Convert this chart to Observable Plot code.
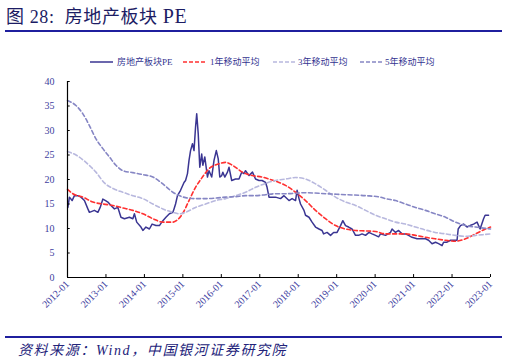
<!DOCTYPE html>
<html>
<head>
<meta charset="utf-8">
<script src="https://cdn.jsdelivr.net/npm/d3@7"></script>
<script src="https://cdn.jsdelivr.net/npm/@observablehq/plot@0.6"></script>
<style>
  html, body { margin: 0; padding: 0; background: #fff; }
  #page { position: relative; width: 508px; height: 361px; overflow: hidden; background: #fff; }
  .abs { position: absolute; }
  #title { left: 6px; top: 2px; font-family: "Liberation Serif", "Noto Sans CJK SC", serif; font-size: 18px; letter-spacing: 0.6px; color: #1c1c64; white-space: nowrap; }
  #title .pe { font-size: 20px; }
  .rule { left: 5px; width: 497px; height: 2px; background: #1f1f9e; }
  #source { left: 18px; top: 339px; font-family: "Liberation Serif", "Noto Sans CJK SC", serif; font-style: italic; font-size: 14px; letter-spacing: 1.6px; color: #23237a; white-space: nowrap; }
  .leg { font-family: "Liberation Serif", "Noto Sans CJK SC", serif; font-size: 9px; color: #333390; white-space: nowrap; }
</style>
</head>
<body>
<div id="page">
  <div id="title" class="abs">图 28:&nbsp;&nbsp;房地产板块 <span class="pe">PE</span></div>
  <div class="abs rule" style="top:30px"></div>
  <div id="legend"></div>
  <div id="chart" class="abs" style="left:0;top:70px"></div>
  <div class="abs rule" style="top:336px"></div>
  <div id="source" class="abs">资料来源：Wind，中国银河证券研究院</div>
</div>
<script>
// ---- data ----
const seriesNames = ["房地产板块PE", "1年移动平均", "3年移动平均", "5年移动平均"];
const xTickYears = [2012, 2013, 2014, 2015, 2016, 2017, 2018, 2019, 2020, 2021, 2022, 2023];
const yTicks = [0, 5, 10, 15, 20, 25, 30, 35, 40];

const peYear = [2012.01,2012.05,2012.12,2012.18,2012.27,2012.35,2012.44,2012.53,2012.57,2012.70,2012.79,2012.85,2012.92,2012.99,
  2013.05,2013.13,2013.22,2013.31,2013.39,2013.48,2013.61,2013.70,2013.74,2013.80,2013.91,2013.96,
  2014.04,2014.13,2014.20,2014.30,2014.39,2014.48,2014.56,2014.65,2014.74,2014.77,2014.81,2014.86,2014.94,
  2015.03,2015.07,2015.12,2015.16,2015.20,2015.25,2015.29,2015.33,2015.36,2015.40,2015.44,2015.49,2015.52,2015.57,2015.64,2015.68,2015.75,2015.81,2015.87,2015.92,2015.96,
  2016.01,2016.04,2016.09,2016.16,2016.20,2016.27,2016.37,2016.46,2016.53,2016.59,2016.63,2016.72,2016.81,2016.89,2016.98,
  2017.06,2017.15,2017.19,2017.24,2017.31,2017.41,2017.54,2017.63,2017.76,2017.84,2017.93,2017.97,
  2018.02,2018.06,2018.15,2018.19,2018.28,2018.36,2018.45,2018.54,2018.62,2018.66,2018.75,2018.84,2018.92,
  2019.01,2019.10,2019.16,2019.23,2019.31,2019.40,2019.49,2019.57,2019.66,2019.75,2019.84,2019.92,
  2020.01,2020.09,2020.14,2020.27,2020.40,2020.44,2020.53,2020.61,2020.70,2020.79,2020.87,2020.96,
  2021.09,2021.22,2021.31,2021.39,2021.48,2021.57,2021.65,2021.74,2021.78,2021.87,2021.96,
  2022.04,2022.13,2022.16,2022.22,2022.30,2022.39,2022.47,2022.56,2022.65,2022.73,2022.82,2022.86,2022.95];
const peValue = [14.3,16.4,15.7,16.7,16.7,16.4,15.7,14.0,13.3,13.7,13.3,14.3,16.0,15.7,
  15.4,14.7,14.0,14.3,12.3,12.0,12.3,12.0,13.0,11.3,10.3,9.6,
  10.3,9.9,10.9,10.6,10.6,11.6,12.3,13.0,13.3,14.0,15.0,16.7,17.8,
  19.4,19.8,21.2,23.9,25.9,27.3,25.9,30.7,33.4,29.3,22.5,25.2,22.9,24.6,20.5,21.8,20.5,23.9,25.9,24.2,20.5,
  20.8,21.5,20.5,21.5,22.5,19.8,20.1,20.1,21.5,21.2,21.8,20.8,21.5,20.1,19.8,
  19.8,19.4,18.4,16.4,16.4,16.4,16.1,16.7,15.7,16.1,15.7,17.8,
  16.1,15.0,13.7,12.7,12.3,11.3,10.3,9.9,9.6,8.9,9.2,8.6,9.2,
  9.2,10.6,11.6,10.6,10.3,9.9,8.6,8.6,8.9,8.6,9.2,8.9,
  8.6,8.3,8.9,8.6,9.2,9.9,9.2,9.6,8.9,8.9,8.6,8.2,
  7.9,7.9,7.9,7.6,6.9,7.2,6.9,6.5,7.2,7.2,7.6,
  7.6,7.6,9.9,10.6,10.9,10.3,10.6,10.9,11.3,9.9,12.0,12.7,12.7];

const ma1Year = [2012.00,2012.14,2012.40,2012.66,2012.92,2013.18,2013.44,2013.70,2013.96,2014.22,2014.48,2014.74,2014.85,2014.99,
  2015.16,2015.33,2015.51,2015.68,2015.94,2016.11,2016.29,2016.55,2016.80,2017.06,2017.32,2017.50,2017.67,2017.93,
  2018.19,2018.45,2018.71,2018.97,2019.23,2019.49,2019.75,2020.01,2020.27,2020.53,2020.79,2021.05,2021.31,2021.56,2021.83,
  2022.09,2022.35,2022.61,2022.87,2023.00];
const ma1Value = [18.0,17.1,16.4,15.4,15.0,14.7,14.2,13.7,13.0,12.0,11.3,11.3,11.7,13.0,
  15.7,18.4,20.5,22.2,23.2,23.5,22.9,21.5,20.8,20.5,19.9,19.4,18.8,17.4,
  15.7,13.7,12.0,10.6,9.9,9.6,9.5,9.4,8.9,8.9,8.9,8.6,8.2,7.9,7.6,
  7.4,7.9,8.9,9.9,10.3];

const ma3Year = [2012.00,2012.22,2012.48,2012.74,2012.96,2013.20,2013.44,2013.70,2013.96,2014.22,2014.48,2014.74,2014.90,2015.07,
  2015.33,2015.59,2015.85,2016.11,2016.37,2016.63,2016.89,2017.15,2017.41,2017.67,2017.93,2018.19,2018.45,2018.71,2018.97,
  2019.23,2019.49,2019.75,2020.01,2020.27,2020.53,2020.79,2021.05,2021.31,2021.56,2021.83,2022.09,2022.35,2022.61,2023.00];
const ma3Value = [25.7,25.0,23.5,21.5,19.3,18.1,17.4,16.7,16.1,15.0,14.0,13.3,13.0,13.3,
  14.3,15.0,15.7,16.1,16.7,17.4,18.4,19.2,19.8,20.1,20.4,20.1,19.1,17.8,16.4,
  15.4,14.7,13.7,12.7,12.0,11.3,10.9,10.3,9.7,9.2,8.9,8.6,8.4,8.6,8.9];

const ma5Year = [2012.00,2012.22,2012.40,2012.57,2012.74,2012.92,2013.09,2013.26,2013.44,2013.70,2013.96,2014.22,2014.48,2014.74,
  2015.07,2015.33,2015.59,2015.85,2016.11,2016.37,2016.63,2016.89,2017.15,2017.41,2017.67,2018.19,2018.71,2019.23,2019.75,
  2020.14,2020.27,2020.53,2020.79,2021.05,2021.31,2021.56,2021.83,2022.09,2022.35,2022.61,2023.00];
const ma5Value = [36.1,35.1,33.4,31.0,28.3,26.3,24.6,22.9,21.8,21.4,21.0,20.5,19.1,17.4,
  16.3,16.1,16.1,16.2,16.4,16.5,16.7,16.7,16.9,17.1,17.1,17.3,17.1,16.9,16.7,
  16.4,16.1,15.7,15.0,14.3,13.7,13.0,12.3,11.3,10.6,10.3,9.9];

// ---- styles ----
const colors = ["#3a3592", "#ff3030", "#b8b8de", "#8686c4"];
const dashes = [null, "4,2.6", "4,2.6", "4,2.6"];
const widths = [1.5, 1.6, 1.6, 1.6];
const labelColor = "#4040a0";
const font = "'Liberation Serif', 'Noto Sans CJK SC', serif";

// ---- legend ----
const legendPos = [[90, 117], [183, 210], [273, 298], [360, 385]];
const legend = document.getElementById("legend");
seriesNames.forEach((name, i) => {
  const [lx, tx] = legendPos[i];
  const sw = document.createElementNS("http://www.w3.org/2000/svg", "svg");
  sw.setAttribute("width", 24); sw.setAttribute("height", 6);
  sw.style.position = "absolute"; sw.style.left = lx + "px"; sw.style.top = "59px";
  const ln = document.createElementNS("http://www.w3.org/2000/svg", "line");
  ln.setAttribute("x1", 0); ln.setAttribute("x2", 23); ln.setAttribute("y1", 3); ln.setAttribute("y2", 3);
  ln.setAttribute("stroke", colors[i]); ln.setAttribute("stroke-width", widths[i]);
  if (dashes[i]) ln.setAttribute("stroke-dasharray", "4,2");
  sw.appendChild(ln);
  legend.appendChild(sw);
  const t = document.createElement("div");
  t.className = "abs leg"; t.style.left = tx + "px"; t.style.top = "55px";
  t.textContent = name;
  legend.appendChild(t);
});

// ---- chart ----
const pe = peYear.map((x, i) => ({x, y: peValue[i]}));
const ma1 = ma1Year.map((x, i) => ({x, y: ma1Value[i]}));
const ma3 = ma3Year.map((x, i) => ({x, y: ma3Value[i]}));
const ma5 = ma5Year.map((x, i) => ({x, y: ma5Value[i]}));
const seriesData = [pe, ma1, ma3, ma5];

const chart = Plot.plot({
  width: 508,
  height: 262,
  marginTop: 11,
  marginBottom: 55,
  marginLeft: 67,
  marginRight: 18,
  style: {fontFamily: font, background: "transparent", overflow: "visible"},
  x: {domain: [2012, 2023], axis: null},
  y: {domain: [0, 40], axis: null},
  marks: [
    ...seriesData.map((d, i) => Plot.line(d, {
      x: "x", y: "y",
      stroke: colors[i], strokeWidth: widths[i],
      strokeDasharray: dashes[i] ?? undefined,
      curve: i === 0 ? "linear" : "monotone-x"
    })),
    Plot.ruleX([2012], {stroke: "#000", strokeWidth: 1.2}),
    Plot.ruleY([0], {stroke: "#000", strokeWidth: 1.2}),
    Plot.ruleX(xTickYears, {y1: 0, y2: 0.6, stroke: "#000"}),
    Plot.ruleY(yTicks, {x1: 2012, x2: 2012.07, stroke: "#000"}),
    Plot.axisY(yTicks, {tickSize: 0, tickPadding: 13, fill: labelColor, fontSize: 10, anchor: "left", label: null}),
    Plot.axisX(xTickYears, {tickSize: 0, tickPadding: 5, tickRotate: -45, fill: labelColor, fontSize: 10,
      anchor: "bottom", label: null, tickFormat: d => `${d}-01`})
  ]
});
document.getElementById("chart").appendChild(chart);
</script>
</body>
</html>
